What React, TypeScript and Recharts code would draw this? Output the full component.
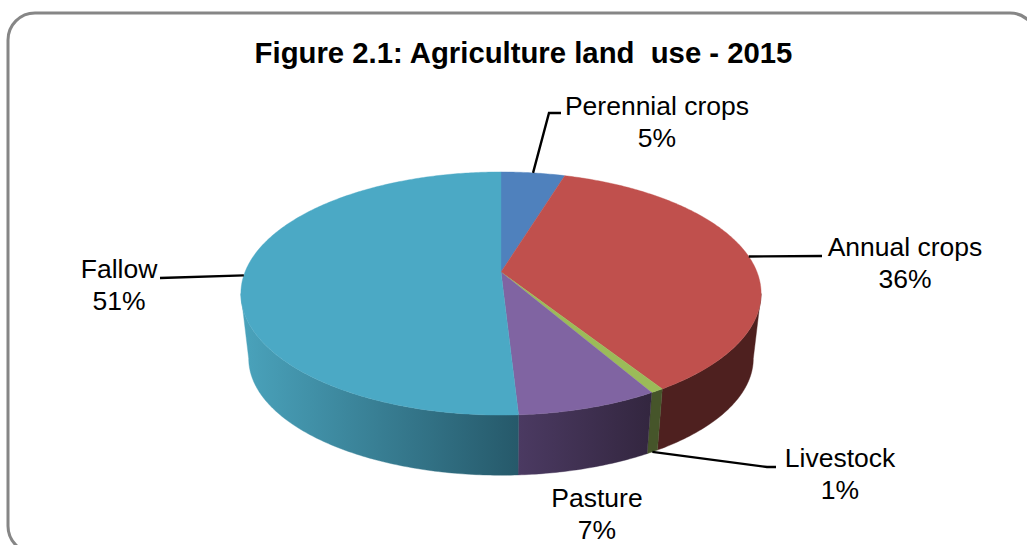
import React from "react";
import { PieChart, Pie, Cell } from "recharts";

const categories = ["Perennial crops", "Annual crops", "Livestock", "Pasture", "Fallow"];
const values = [4.7, 36.3, 0.7, 7.4, 50.9];
const topColors = ["#4F81BD", "#C0504D", "#9BBB59", "#8064A2", "#4BA9C5"];
const wallFrom = ["#3B608E", "#4E201F", "#46552A", "#4B3A62", "#4AA3BC"];
const wallTo = ["#3B608E", "#4E201F", "#46552A", "#33263F", "#26596A"];
const title = "Figure 2.1: Agriculture land  use - 2015";

// Perspective of the tilted disc
const K = -0.177;
const SQUASH = 0.46;
const WALL_X = 0.97;
const WALL_Y = 0.96;
const WALL_DROP = 65;
const ELLIPSE_SHIFT = 21.5;

const project = (cx: number, cy: number, r: number, theta: number) => {
  const rad = (theta * Math.PI) / 180;
  const X = Math.sin(rad);
  const Y = -Math.cos(rad);
  const d = 1 + K * Y;
  return { x: cx + (r * X) / d, y: cy + (r * SQUASH * Y) / d };
};
const lower = (cx: number, cy: number, p: { x: number; y: number }) => ({
  x: cx + WALL_X * (p.x - cx),
  y: cy + ELLIPSE_SHIFT + WALL_DROP + WALL_Y * (p.y - cy - ELLIPSE_SHIFT),
});

const arc = (cx: number, cy: number, r: number, a: number, b: number) => {
  const n = Math.max(2, Math.ceil(Math.abs(b - a) * 1.5));
  const pts = [];
  for (let i = 0; i <= n; i++) pts.push(project(cx, cy, r, a + ((b - a) * i) / n));
  return pts;
};
const toD = (pts: { x: number; y: number }[]) =>
  pts.map((p, i) => `${i ? "L" : "M"}${p.x.toFixed(2)},${p.y.toFixed(2)}`).join(" ");

const VISIBLE_FROM = 100.2;
const VISIBLE_TO = 259.8;

const Slice = (props: any) => {
  const { cx, cy, outerRadius, startAngle, endAngle, index, fill } = props;
  const t1 = 90 - startAngle;
  const t2 = 90 - endAngle;
  const top = arc(cx, cy, outerRadius, t1, t2);
  const w1 = Math.max(t1, VISIBLE_FROM);
  const w2 = Math.min(t2, VISIBLE_TO);
  let wall = null;
  if (w2 > w1) {
    const up = arc(cx, cy, outerRadius, w1, w2);
    const down = up.map((p) => lower(cx, cy, p)).reverse();
    const xs = up.concat(down).map((p) => p.x);
    const id = `wall-${index}`;
    wall = (
      <g>
        <defs>
          <linearGradient id={id} gradientUnits="userSpaceOnUse" x1={Math.min(...xs)} x2={Math.max(...xs)} y1={0} y2={0}>
            <stop offset="0" stopColor={wallFrom[index]} />
            <stop offset="1" stopColor={wallTo[index]} />
          </linearGradient>
        </defs>
        <path d={`${toD(up.concat(down))} Z`} fill={`url(#${id})`} stroke={`url(#${id})`} strokeWidth={0.4} />
      </g>
    );
  }
  return (
    <g>
      {wall}
      <path d={`M${cx},${cy} ${toD(top).replace("M", "L")} Z`} fill={fill} stroke={fill} strokeWidth={0.4} />
    </g>
  );
};

// Text anchors and elbows for the callouts
const labelAt = [
  { x: 657, y: 115 },
  { x: 905, y: 256 },
  { x: 840, y: 467 },
  { x: 597, y: 507 },
  { x: 119, y: 278 },
];
const elbows: { x: number; y: number }[][] = [
  [{ x: 549, y: 113 }, { x: 561, y: 113 }],
  [{ x: 822, y: 256 }],
  [{ x: 767, y: 467 }, { x: 776, y: 467 }],
  [],
  [{ x: 160, y: 278 }],
];

const FONT = "'Liberation Sans', Arial, sans-serif";

const renderLabel = (props: any) => {
  const i = props.index;
  const at = labelAt[i];
  return (
    <g key={`label-${i}`}>
      <text x={at.x} y={at.y} textAnchor="middle" fontFamily={FONT} fontSize={26.5} fill="#000">
        {categories[i]}
      </text>
      <text x={at.x} y={at.y + 31.5} textAnchor="middle" fontFamily={FONT} fontSize={26.5} fill="#000">
        {Math.round(values[i])}%
      </text>
    </g>
  );
};

const renderLine = (props: any) => {
  const i = props.index;
  if (!elbows[i].length) return <g key={`line-${i}`} />;
  const theta = 90 - props.midAngle;
  let p = project(props.cx, props.cy, props.outerRadius, theta);
  if (theta > VISIBLE_FROM && theta < VISIBLE_TO) p = lower(props.cx, props.cy, p);
  return <path key={`line-${i}`} d={toD([p, ...elbows[i]])} fill="none" stroke="#000" strokeWidth={2.4} />;
};

const rows = categories.map((name, i) => ({ name, value: values[i] }));

export default function App() {
  return (
    <div style={{ position: "absolute", left: 0, top: 0, width: 1027, height: 545, overflow: "hidden" }}>
      <PieChart width={1027} height={545} margin={{ top: 0, right: 0, bottom: 0, left: 0 }}>
        <rect x={8} y={13} width={1029} height={540} rx={27} ry={27} fill="#fff" stroke="#868686" strokeWidth={3} />
        <text x={523.5} y={63} textAnchor="middle" fontFamily={FONT} fontWeight="bold" fontSize={29.3} fill="#000" style={{ whiteSpace: "pre" }}>
          {title}
        </text>
        <Pie
          data={rows}
          dataKey="value"
          nameKey="name"
          cx={501}
          cy={272}
          outerRadius={256}
          startAngle={90}
          endAngle={-270}
          stroke="none"
          isAnimationActive={false}
          shape={Slice}
          label={renderLabel}
          labelLine={renderLine}
        >
          {rows.map((r, i) => (
            <Cell key={r.name} fill={topColors[i]} />
          ))}
        </Pie>
      </PieChart>
    </div>
  );
}
